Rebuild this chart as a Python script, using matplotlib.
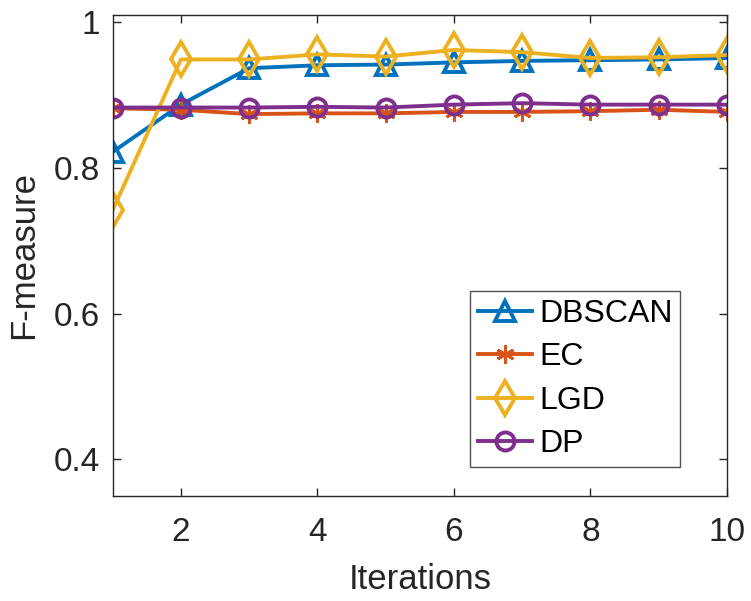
import matplotlib
matplotlib.use('Agg')
import matplotlib.pyplot as plt

plt.rcParams['font.family'] = ['Liberation Sans', 'DejaVu Sans']

iterations = [1, 2, 3, 4, 5, 6, 7, 8, 9, 10]
dbscan = [0.822, 0.887, 0.937, 0.941, 0.942, 0.945, 0.947, 0.948, 0.949, 0.951]
ec = [0.882, 0.880, 0.874, 0.875, 0.875, 0.877, 0.877, 0.878, 0.880, 0.877]
lgd = [0.742, 0.949, 0.949, 0.956, 0.953, 0.962, 0.959, 0.951, 0.952, 0.955]
dp = [0.883, 0.883, 0.883, 0.884, 0.883, 0.887, 0.889, 0.887, 0.887, 0.887]

fig = plt.figure(figsize=(7.51, 6.01), dpi=100)
ax = fig.add_axes([0.150, 0.175, 0.818, 0.800])

lw = 2.8
ax.plot(iterations, dbscan, marker='^', markersize=14, markerfacecolor='none',
        markeredgewidth=lw, linewidth=lw, color='#0072BD', label='DBSCAN')
ax.plot(iterations, ec, marker=(6, 2, 0), markersize=13, markeredgewidth=2.0,
        linewidth=lw, color='#D95319', label='EC')
ax.plot(iterations, lgd, marker='d', markersize=17, markerfacecolor='none',
        markeredgewidth=lw, linewidth=lw, color='#EDB120', label='LGD')
ax.plot(iterations, dp, marker='o', markersize=13, markerfacecolor='none',
        markeredgewidth=lw, linewidth=lw, color='#7E2F8E', label='DP')

ax.set_xlim(1, 10)
ax.set_ylim(0.35, 1.01)
ax.set_xticks([2, 4, 6, 8, 10])
ax.set_yticks([0.4, 0.6, 0.8, 1.0])
ax.set_yticklabels(['0.4', '0.6', '0.8', '1'])
ax.tick_params(direction='in', length=6, width=1, labelsize=24, colors='#262626',
               top=True, right=True)
ax.tick_params(axis='x', pad=15)
ax.tick_params(axis='y', pad=9)
for s in ax.spines.values():
    s.set_linewidth(1)
    s.set_color('#262626')

ax.set_xlabel('Iterations', fontsize=25, color='#262626', labelpad=11)
ax.set_ylabel('F-measure', fontsize=25, color='#262626', labelpad=10)

leg = ax.legend(loc='upper left', bbox_to_anchor=(0.581, 0.426),
                fontsize=23, frameon=True, fancybox=False,
                handlelength=1.7, handletextpad=0.22, borderpad=0.25,
                labelspacing=0.42, borderaxespad=0)
leg.get_frame().set_edgecolor('#262626')
leg.get_frame().set_linewidth(1)

fig.savefig('out.png', dpi=100)
